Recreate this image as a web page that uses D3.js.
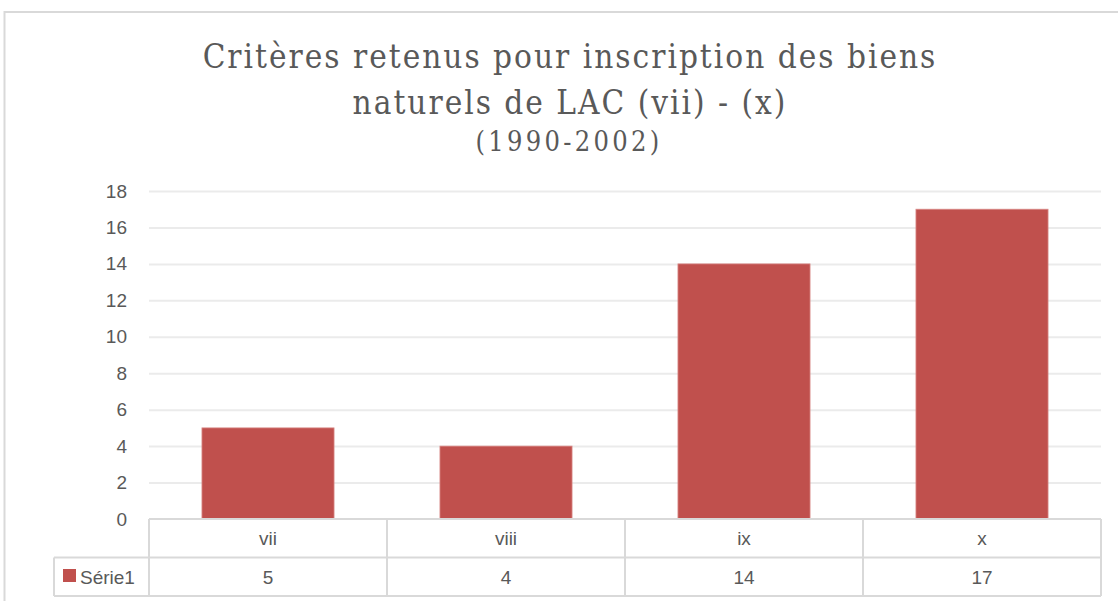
<!DOCTYPE html>
<html>
<head>
<meta charset="utf-8">
<script src="https://cdn.jsdelivr.net/npm/d3@7/dist/d3.min.js"></script>
<style>
  html, body { margin: 0; padding: 0; background: #ffffff; }
  svg { display: block; }
</style>
</head>
<body>
<svg id="chart" width="1118" height="601"></svg>
<script>
// Chart data
const categories = ["vii", "viii", "ix", "x"];
const values = [5, 4, 14, 17];
const seriesName = "Série1";
const yTicks = [0, 2, 4, 6, 8, 10, 12, 14, 16, 18];
const titleLines = ["Critères retenus pour inscription des biens", "naturels de LAC (vii) - (x)"];
const subtitle = "(1990-2002)";

const W = 1118, H = 601;
const plot = { left: 149, right: 1101, top: 191, bottom: 519 };
const tableRow = 38.5;
const legendLeft = 54;
const textColor = "#595959";
const barColor = "#C0504D";
const lineColor = "#d9d9d9";
const labelFont = "'Liberation Sans', Arial, sans-serif";

const svg = d3.select("#chart");

// Outer chart frame (top and left edges visible)
svg.append("rect")
  .attr("x", 4.5).attr("y", 12)
  .attr("width", W + 10).attr("height", H + 10)
  .attr("fill", "#fff")
  .attr("stroke", lineColor).attr("stroke-width", 2);

// Title
const title = svg.append("g")
  .attr("font-family", "'DejaVu Serif Condensed', 'DejaVu Serif', serif")
  .attr("fill", textColor)
  .attr("text-anchor", "middle");
title.selectAll("text.t")
  .data(titleLines)
  .join("text")
  .attr("class", "t")
  .attr("x", 570)
  .attr("y", (d, i) => 68 + i * 45.5)
  .attr("font-size", 33)
  .attr("letter-spacing", 2)
  .text(d => d);
title.append("text")
  .attr("x", 569).attr("y", 151)
  .attr("font-size", 27)
  .attr("letter-spacing", 3.3)
  .text(subtitle);

// Scales
const x = d3.scaleBand()
  .domain(categories)
  .range([plot.left, plot.right])
  .paddingInner(0.445)
  .paddingOuter(0.2225);
const xCol = d3.scaleBand()
  .domain(categories)
  .range([plot.left, plot.right]);
const y = d3.scaleLinear()
  .domain([0, 18])
  .range([plot.bottom, plot.top]);

// Gridlines + y labels via axis
const yAxis = d3.axisLeft(y)
  .tickValues(yTicks)
  .tickSize(-(plot.right - plot.left))
  .tickPadding(22)
  .tickFormat(d3.format("d"));
const gy = svg.append("g")
  .attr("transform", `translate(${plot.left},0)`)
  .call(yAxis);
gy.select(".domain").remove();
gy.selectAll(".tick line")
  .attr("stroke", "#ebebeb").attr("stroke-width", 2)
  .filter(d => d === 0).remove();
gy.selectAll(".tick text")
  .attr("fill", textColor)
  .attr("font-family", labelFont)
  .attr("font-size", 19);

// Bars
svg.append("g")
  .selectAll("rect")
  .data(values)
  .join("rect")
  .attr("x", (d, i) => x(categories[i]))
  .attr("y", d => y(d))
  .attr("width", x.bandwidth())
  .attr("height", d => y(0) - y(d))
  .attr("fill", barColor)
  .attr("stroke", "#d98a88").attr("stroke-width", 0.8);

// Data table beneath the plot
const table = svg.append("g")
  .attr("stroke", lineColor).attr("stroke-width", 2).attr("fill", "none");
const r0 = plot.bottom, r1 = plot.bottom + tableRow, r2 = plot.bottom + 2 * tableRow;
table.append("line").attr("x1", plot.left).attr("x2", plot.right).attr("y1", r0).attr("y2", r0);
table.append("line").attr("x1", legendLeft).attr("x2", plot.right).attr("y1", r1).attr("y2", r1);
table.append("line").attr("x1", legendLeft).attr("x2", plot.right).attr("y1", r2).attr("y2", r2);
table.append("line").attr("x1", legendLeft).attr("x2", legendLeft).attr("y1", r1).attr("y2", r2);
table.selectAll("line.v")
  .data(categories.map(c => xCol(c)).concat([plot.right]))
  .join("line")
  .attr("class", "v")
  .attr("x1", d => d).attr("x2", d => d)
  .attr("y1", r0).attr("y2", r2);

const cellText = svg.append("g")
  .attr("fill", textColor)
  .attr("font-family", labelFont)
  .attr("font-size", 19)
  .attr("text-anchor", "middle");
cellText.selectAll("text.cat")
  .data(categories)
  .join("text")
  .attr("class", "cat")
  .attr("x", d => xCol(d) + xCol.bandwidth() / 2)
  .attr("y", r0 + 26)
  .text(d => d);
cellText.selectAll("text.val")
  .data(values)
  .join("text")
  .attr("class", "val")
  .attr("x", (d, i) => xCol(categories[i]) + xCol.bandwidth() / 2)
  .attr("y", r1 + 26)
  .text(d => d);

// Legend key in the table
svg.append("rect")
  .attr("x", 63).attr("y", 569)
  .attr("width", 13).attr("height", 13)
  .attr("fill", barColor);
svg.append("text")
  .attr("x", 80).attr("y", r1 + 26)
  .attr("fill", textColor)
  .attr("font-family", labelFont)
  .attr("font-size", 19)
  .text(seriesName);
</script>
</body>
</html>
